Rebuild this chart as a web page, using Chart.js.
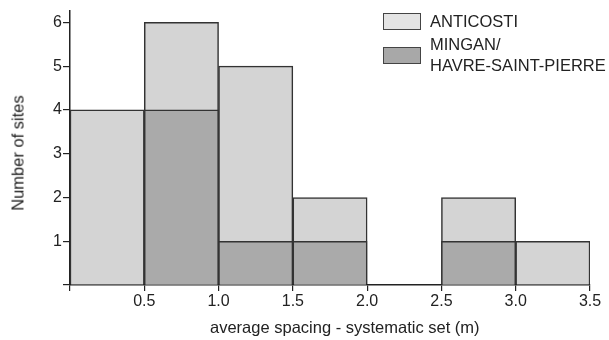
<!DOCTYPE html>
<html>
<head>
<meta charset="utf-8">
<script src="https://cdn.jsdelivr.net/npm/chart.js@4/dist/chart.umd.min.js"></script>
<style>
  html, body { margin: 0; padding: 0; background: #ffffff; }
  #wrap { position: relative; width: 609px; height: 340px; overflow: hidden; }
  canvas { display: block; }
  .txt { position: absolute; font-family: "Liberation Sans", Arial, sans-serif; font-size: 16.5px; color: #222; line-height: 21px; white-space: nowrap; }
  .box { position: absolute; width: 38px; height: 17px; border: 1px solid #444; box-sizing: border-box; }
</style>
</head>
<body>
<div id="wrap">
  <canvas id="c" width="609" height="340"></canvas>
  <div class="box" style="left:383px; top:13px; background:#e4e4e4;"></div>
  <div class="txt" style="left:430px; top:11px;">ANTICOSTI</div>
  <div class="box" style="left:383px; top:47px; background:#a8a8a8;"></div>
  <div class="txt" style="left:430px; top:34px;">MINGAN/<br>HAVRE-SAINT-PIERRE</div>
  <div class="txt" id="xtitle" style="left:210px; top:317px;">average spacing - systematic set (m)</div>
  <div class="txt" id="ytitle" style="left:18px; top:153px; transform: translate(-50%, -50%) rotate(-90deg);">Number of sites</div>
</div>
<script>
const bins = ["0-0.5", "0.5-1.0", "1.0-1.5", "1.5-2.0", "2.0-2.5", "2.5-3.0", "3.0-3.5"];
const anticosti = [4, 6, 5, 2, 0, 2, 1];
const mingan = [null, 4, 1, 1, null, 1, null];
const xTickValues = [0.5, 1.0, 1.5, 2.0, 2.5, 3.0, 3.5];
const yTickValues = [1, 2, 3, 4, 5, 6];

const FONT = "'Liberation Sans', Arial, sans-serif";

new Chart(document.getElementById('c'), {
  type: 'bar',
  data: {
    labels: bins,
    datasets: [
      { label: 'ANTICOSTI', data: anticosti, backgroundColor: '#d4d4d4', borderColor: '#333', borderWidth: 1.5, order: 2, categoryPercentage: 1, barPercentage: 1, borderSkipped: 'bottom' },
      { label: 'MINGAN/HAVRE-SAINT-PIERRE', data: mingan, backgroundColor: '#aaaaaa', borderColor: '#333', borderWidth: 1.5, order: 1, categoryPercentage: 1, barPercentage: 1, borderSkipped: 'bottom' }
    ]
  },
  options: {
    responsive: false,
    animation: false,
    layout: { padding: { left: 0, right: 19, top: 8, bottom: 0 } },
    plugins: { legend: { display: false }, tooltip: { enabled: false } },
    datasets: { bar: { grouped: false } },
    scales: {
      x: { display: false, offset: true },
      x2: {
        type: 'linear', position: 'bottom', min: 0, max: 3.5, offset: false,
        afterBuildTicks: s => { s.ticks = [0].concat(xTickValues).map(v => ({ value: v })); },
        afterFit: s => { s.height = 55; },
        ticks: { callback: v => (v === 0 ? '' : v.toFixed(1)), font: { family: FONT, size: 16 }, color: '#222', padding: 1, maxRotation: 0, autoSkip: false },
        grid: { offset: false, drawOnChartArea: false, drawTicks: true, tickLength: 6, color: '#222', lineWidth: 1.2 },
        border: { display: true, color: '#222', width: 1.5 },
        title: { display: false }
      },
      y: {
        min: 0, max: 6.27,
        afterBuildTicks: s => { s.ticks = [0].concat(yTickValues).map(v => ({ value: v })); },
        afterFit: s => { s.width = 70; },
        ticks: { callback: v => (v === 0 ? '' : String(v)), font: { family: FONT, size: 16 }, color: '#222', padding: 1 },
        grid: { drawOnChartArea: false, drawTicks: true, tickLength: 7, color: '#222', lineWidth: 1.2 },
        border: { display: true, color: '#222', width: 1.5 },
        title: { display: false }
      }
    }
  }
});
</script>
</body>
</html>
